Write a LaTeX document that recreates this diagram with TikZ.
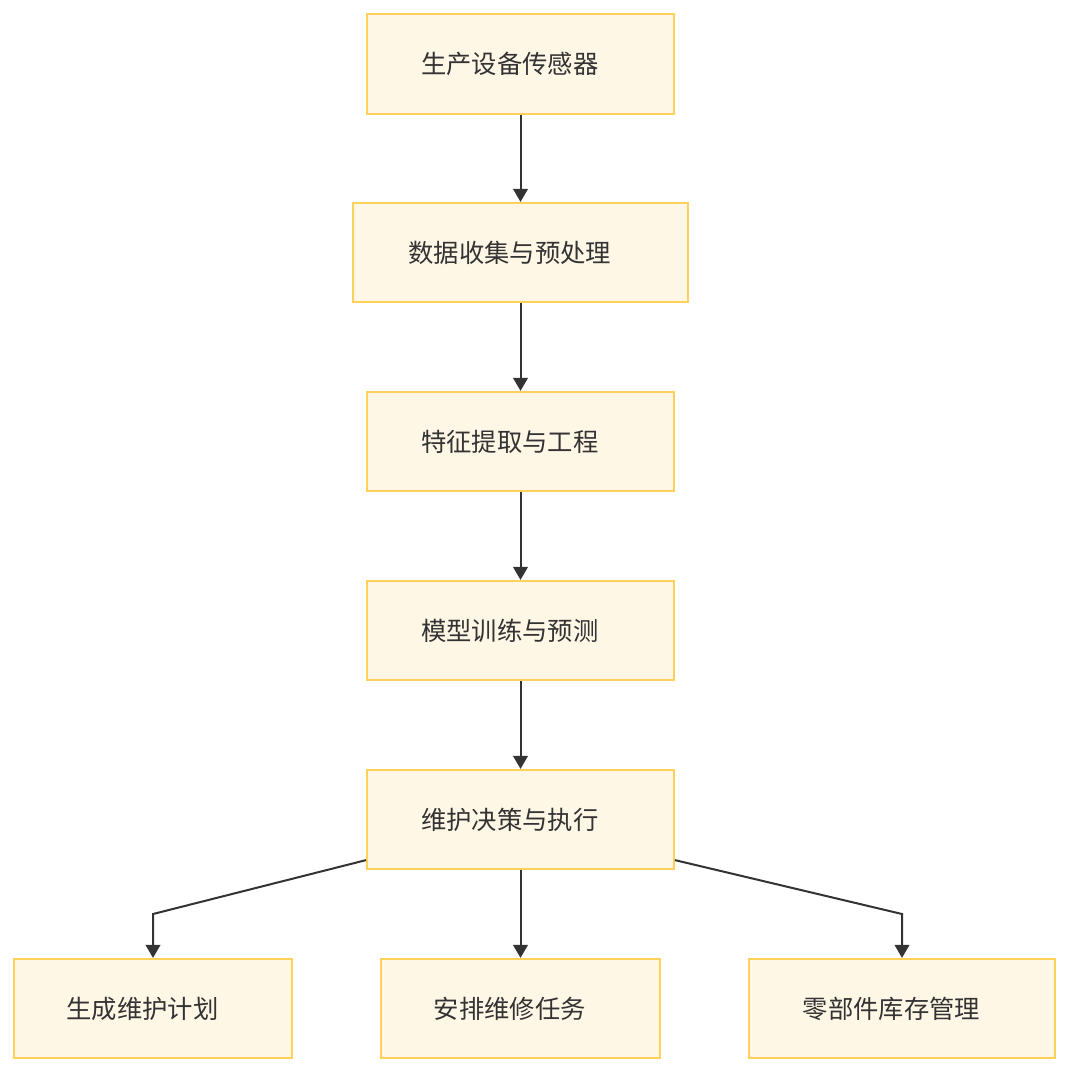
\documentclass[tikz,border=0pt]{standalone}
\usepackage{fontspec}
\setmainfont{Noto Sans CJK SC}
\usetikzlibrary{arrows.meta}
\definecolor{boxfill}{HTML}{FFF7E6}
\definecolor{boxline}{HTML}{FFD05A}
\definecolor{ink}{HTML}{333333}
\tikzset{
  stepbox/.style={draw=boxline, fill=boxfill, line width=1.4pt, inner sep=0pt,
    minimum width=#1*0.75pt, minimum height=74.5pt, text=ink,
    font=\fontsize{19}{23}\selectfont},
  flow/.style={draw=ink, line width=1.5pt, -{Triangle[length=9.8pt,width=11pt]}}
}
\newcommand{\lbl}[1]{\hspace*{-16pt}#1}
\begin{document}
\begin{tikzpicture}[x=0.75pt,y=-0.75pt]
\useasboundingbox[fill=white] (0,0) rectangle (1070,1074);
\node[stepbox=307] (n1) at (520.5,64) {\lbl{生产设备传感器}};
\node[stepbox=335] (n2) at (520.5,252.5) {\lbl{数据收集与预处理}};
\node[stepbox=307] (n3) at (520.5,441.5) {\lbl{特征提取与工程}};
\node[stepbox=307] (n4) at (520.5,630.5) {\lbl{模型训练与预测}};
\node[stepbox=307] (n5) at (520.5,819.5) {\lbl{维护决策与执行}};
\node[stepbox=278] (n6) at (153,1008.5) {\lbl{生成维护计划}};
\node[stepbox=279] (n7) at (520.5,1008.5) {\lbl{安排维修任务}};
\node[stepbox=306] (n8) at (902,1008.5) {\lbl{零部件库存管理}};
\draw[flow] (n1) -- (n2);
\draw[flow] (n2) -- (n3);
\draw[flow] (n3) -- (n4);
\draw[flow] (n4) -- (n5);
\draw[flow] (n5) -- (n7);
\draw[flow] ([yshift=7.5pt]n5.south west) -- (n6.north |- 0,914) -- (n6.north);
\draw[flow] ([yshift=7.5pt]n5.south east) -- (n8.north |- 0,914) -- (n8.north);
\end{tikzpicture}
\end{document}
